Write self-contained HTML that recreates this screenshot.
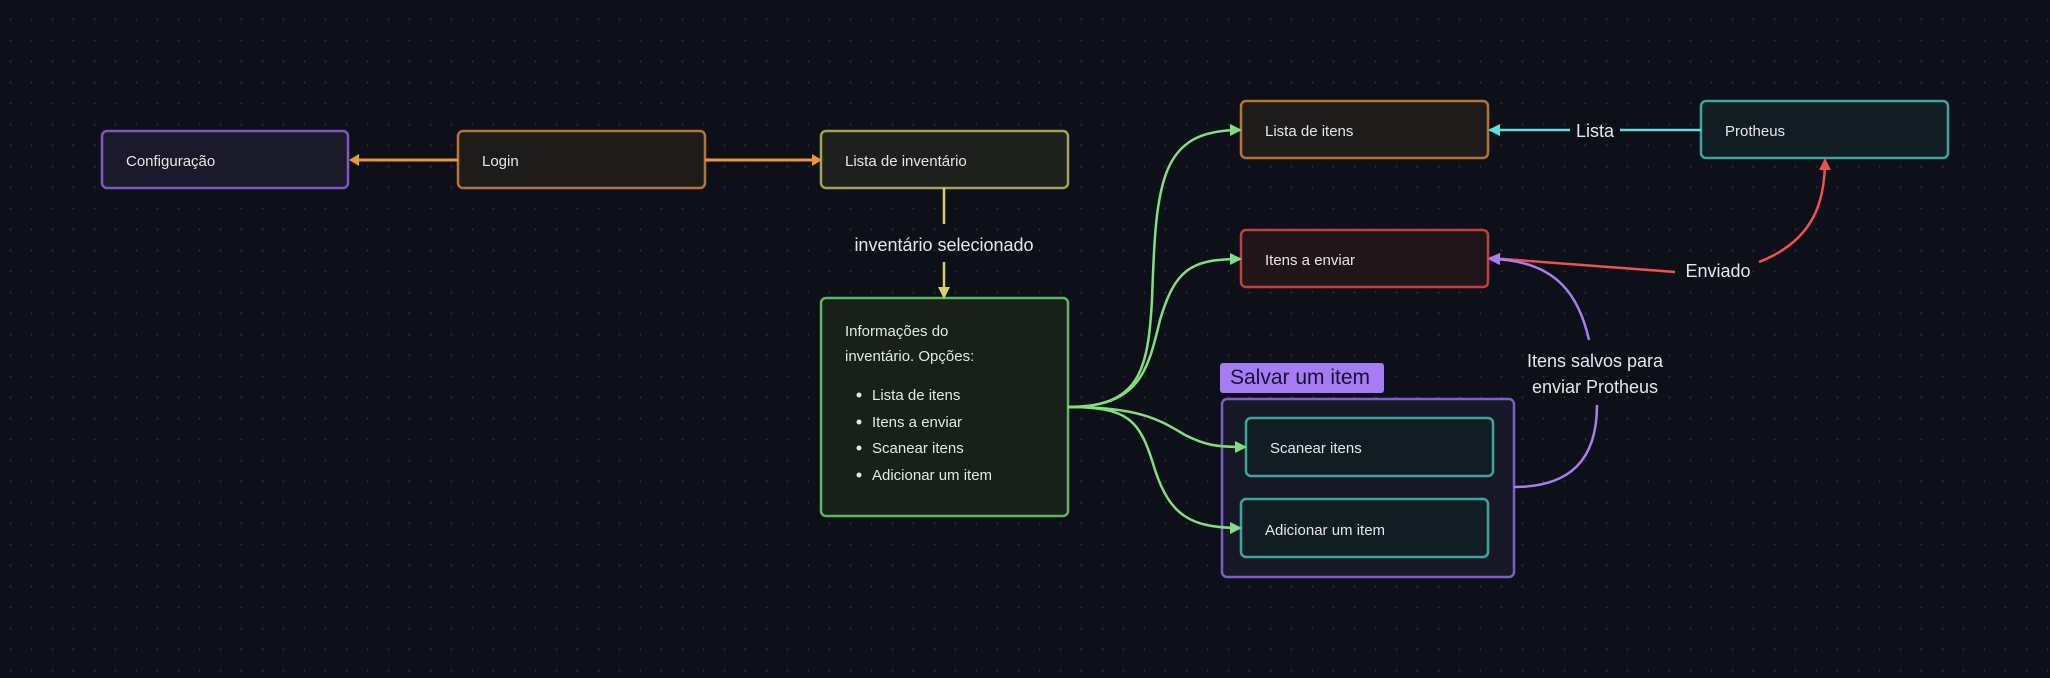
<!DOCTYPE html>
<html><head><meta charset="utf-8"><style>
html,body{margin:0;padding:0;}
body{width:2050px;height:678px;overflow:hidden;background:#0d1018;
background-image:radial-gradient(circle,#2a2e3a 1px,transparent 1.2px);background-size:21px 21px;background-position:0px 9px;font-family:"Liberation Sans",sans-serif;}
svg{position:absolute;left:0;top:0}
text{font-family:"Liberation Sans",sans-serif;fill:#e6e6e6}
#tag{position:absolute;left:1220px;top:363px;width:164px;height:30px;background:#a67cf5;border-radius:3px;color:#1a1030;font-size:21px;line-height:30px;padding-left:10px;box-sizing:border-box;z-index:2;white-space:nowrap}
</style></head><body>
<svg width="2050" height="678" viewBox="0 0 2050 678">
<defs>
<marker id="ao" markerWidth="10" markerHeight="12" refX="8" refY="6" orient="auto" markerUnits="userSpaceOnUse"><path d="M0,0 L10,6 L0,12 z" fill="#f0943a"/></marker>
<marker id="ay" markerWidth="12" markerHeight="12" refX="10" refY="6" orient="auto" markerUnits="userSpaceOnUse"><path d="M0,0 L12,6 L0,12 z" fill="#d8d060"/></marker>
<marker id="ag" markerWidth="12" markerHeight="12" refX="10" refY="6" orient="auto" markerUnits="userSpaceOnUse"><path d="M0,0 L12,6 L0,12 z" fill="#80e07d"/></marker>
<marker id="ac" markerWidth="12" markerHeight="12" refX="10" refY="6" orient="auto" markerUnits="userSpaceOnUse"><path d="M0,0 L12,6 L0,12 z" fill="#5ee0e0"/></marker>
<marker id="ar" markerWidth="12" markerHeight="12" refX="10" refY="6" orient="auto" markerUnits="userSpaceOnUse"><path d="M0,0 L12,6 L0,12 z" fill="#f05050"/></marker>
<marker id="ap" markerWidth="12" markerHeight="12" refX="10" refY="6" orient="auto" markerUnits="userSpaceOnUse"><path d="M0,0 L12,6 L0,12 z" fill="#a97cf0"/></marker>
</defs>

<rect x="1222" y="399" width="292" height="178" rx="5" fill="#171827" stroke="#7e5ec8" stroke-width="2.5"/>

<rect x="102" y="131" width="246" height="57" rx="5" fill="#1a1a2a" stroke="#7e57c2" stroke-width="2.5"/>
<text x="126" y="166" font-size="15">Configuração</text>
<rect x="458" y="131" width="247" height="57" rx="5" fill="#1e1c1b" stroke="#b87333" stroke-width="2.5"/>
<text x="482" y="166" font-size="15">Login</text>
<rect x="821" y="131" width="247" height="57" rx="5" fill="#1d201c" stroke="#a6a24f" stroke-width="2.5"/>
<text x="845" y="166" font-size="15">Lista de inventário</text>
<rect x="821" y="298" width="247" height="218" rx="5" fill="#172019" stroke="#5fb661" stroke-width="2.5"/>
<text x="845" y="336" font-size="15">Informações do</text>
<text x="845" y="361" font-size="15">inventário. Opções:</text>
<circle cx="859" cy="395" r="2.5" fill="#e6e6e6"/><text x="872" y="400" font-size="15">Lista de itens</text>
<circle cx="859" cy="422" r="2.5" fill="#e6e6e6"/><text x="872" y="427" font-size="15">Itens a enviar</text>
<circle cx="859" cy="448" r="2.5" fill="#e6e6e6"/><text x="872" y="453" font-size="15">Scanear itens</text>
<circle cx="859" cy="475" r="2.5" fill="#e6e6e6"/><text x="872" y="480" font-size="15">Adicionar um item</text>

<rect x="1241" y="101" width="247" height="57" rx="5" fill="#1e1c1b" stroke="#b87333" stroke-width="2.5"/>
<text x="1265" y="136" font-size="15">Lista de itens</text>
<rect x="1701" y="101" width="247" height="57" rx="5" fill="#121d23" stroke="#3aa6a0" stroke-width="2.5"/>
<text x="1725" y="136" font-size="15">Protheus</text>
<rect x="1241" y="230" width="247" height="57" rx="5" fill="#201619" stroke="#c0403d" stroke-width="2.5"/>
<text x="1265" y="265" font-size="15">Itens a enviar</text>
<rect x="1246" y="418" width="247" height="58" rx="5" fill="#121d23" stroke="#3aa6a0" stroke-width="2.5"/>
<text x="1270" y="453" font-size="15">Scanear itens</text>
<rect x="1241" y="499" width="247" height="58" rx="5" fill="#121d23" stroke="#3aa6a0" stroke-width="2.5"/>
<text x="1265" y="535" font-size="15">Adicionar um item</text>

<g fill="none">
<path d="M458,160 L351,160" stroke="#f0943a" stroke-width="3" marker-end="url(#ao)"/>
<path d="M705,160 L820,160" stroke="#f0943a" stroke-width="3" marker-end="url(#ao)"/>
<path d="M944,188 L944,224" stroke="#d8d060" stroke-width="2.5"/>
<path d="M944,262 L944,297" stroke="#d8d060" stroke-width="2.5" marker-end="url(#ay)"/>
<path d="M1068,407 C1140,407 1148,370 1152,300 C1156,180 1160,130 1240,130" stroke="#80e07d" stroke-width="2.5" marker-end="url(#ag)"/>
<path d="M1068,407 C1140,407 1148,370 1160,320 C1175,270 1190,259 1240,259" stroke="#80e07d" stroke-width="2.5" marker-end="url(#ag)"/>
<path d="M1068,407 C1140,407 1160,420 1185,435 C1205,445 1215,447 1245,447" stroke="#80e07d" stroke-width="2.5" marker-end="url(#ag)"/>
<path d="M1068,407 C1130,407 1140,420 1155,470 C1170,515 1190,528 1240,528" stroke="#80e07d" stroke-width="2.5" marker-end="url(#ag)"/>
<path d="M1701,130 L1620,130 M1570,130 L1490,130" stroke="#5ee0e0" stroke-width="2.5" marker-end="url(#ac)"/>
<path d="M1675,272 L1490,258" stroke="#f05050" stroke-width="2.5" marker-end="url(#ar)"/>
<path d="M1759,262 C1815,240 1825,200 1825,160" stroke="#f05050" stroke-width="2.5" marker-end="url(#ar)"/>
<path d="M1514,487 C1570,487 1597,460 1597,405" stroke="#a97cf0" stroke-width="2.5"/>
<path d="M1589,340 C1580,300 1560,260 1490,259" stroke="#a97cf0" stroke-width="2.5" marker-end="url(#ap)"/>
</g>

<text x="944" y="251" font-size="18" text-anchor="middle">inventário selecionado</text>
<text x="1595" y="137" font-size="18" text-anchor="middle">Lista</text>
<text x="1718" y="277" font-size="18" text-anchor="middle">Enviado</text>
<text x="1595" y="367" font-size="18" text-anchor="middle">Itens salvos para</text>
<text x="1595" y="393" font-size="18" text-anchor="middle">enviar Protheus</text>
</svg>
<div id="tag">Salvar um item</div>
</body></html>
